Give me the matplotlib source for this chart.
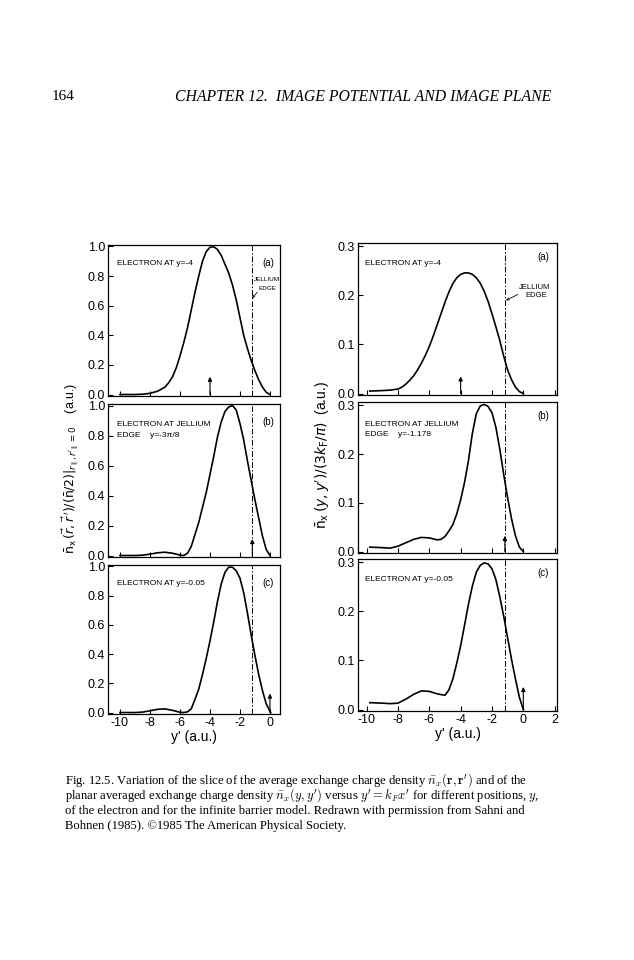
import matplotlib
matplotlib.use('Agg')
import matplotlib.pyplot as plt

# ---- data ----
jellium_edge = -1.178

left_a_x = [-10.0, -9.5, -9.0, -8.5, -8.0, -7.5, -7.0, -6.75, -6.5, -6.25, -6.0, -5.75, -5.5,
            -5.25, -5.0, -4.75, -4.5, -4.25, -4.0, -3.75, -3.5, -3.25, -3.0, -2.75, -2.5,
            -2.25, -2.0, -1.75, -1.5, -1.25, -1.0, -0.75, -0.5, -0.25, 0.0]
left_a_y = [0.0, 0.0, 0.0, 0.002, 0.008, 0.022, 0.05, 0.08, 0.12, 0.18, 0.26, 0.35, 0.45,
            0.57, 0.69, 0.80, 0.90, 0.965, 0.995, 0.998, 0.98, 0.94, 0.88, 0.82, 0.74,
            0.64, 0.52, 0.40, 0.31, 0.23, 0.16, 0.10, 0.05, 0.015, 0.0]

left_b_x = [-10.0, -9.5, -9.0, -8.5, -8.0, -7.5, -7.0, -6.5, -6.0, -5.75, -5.5, -5.25, -5.0,
            -4.75, -4.5, -4.25, -4.0, -3.75, -3.5, -3.25, -3.0, -2.75, -2.5, -2.25, -2.0,
            -1.75, -1.5, -1.25, -1.0, -0.75, -0.5, -0.25, 0.0]
left_b_y = [0.0, 0.0, 0.0, 0.002, 0.009, 0.018, 0.022, 0.015, 0.003, 0.0, 0.015, 0.06, 0.14,
            0.22, 0.32, 0.42, 0.54, 0.66, 0.79, 0.89, 0.96, 0.99, 1.0, 0.97, 0.88,
            0.77, 0.63, 0.50, 0.37, 0.25, 0.13, 0.04, 0.0]

left_c_x = [-10.0, -9.5, -9.0, -8.5, -8.0, -7.5, -7.0, -6.5, -6.0, -5.75, -5.5, -5.25, -5.0,
            -4.75, -4.5, -4.25, -4.0, -3.75, -3.5, -3.25, -3.0, -2.75, -2.5, -2.25, -2.0,
            -1.75, -1.5, -1.25, -1.0, -0.75, -0.5, -0.25, 0.05]
left_c_y = [0.0, 0.0, 0.0, 0.003, 0.012, 0.022, 0.025, 0.015, 0.002, 0.0, 0.005, 0.025, 0.09,
            0.16, 0.26, 0.37, 0.49, 0.62, 0.76, 0.88, 0.96, 0.995, 0.995, 0.97, 0.92,
            0.82, 0.68, 0.53, 0.39, 0.26, 0.15, 0.06, 0.0]

right_a_x = [-9.8, -9.0, -8.5, -8.0, -7.75, -7.5, -7.25, -7.0, -6.75, -6.5, -6.25, -6.0,
             -5.75, -5.5, -5.25, -5.0, -4.75, -4.5, -4.25, -4.0, -3.75, -3.5, -3.25, -3.0,
             -2.75, -2.5, -2.25, -2.0, -1.75, -1.5, -1.25, -1.0, -0.75, -0.5, -0.25, 0.0]
right_a_y = [0.005, 0.006, 0.007, 0.009, 0.013, 0.019, 0.027, 0.036, 0.048, 0.062, 0.078, 0.096,
             0.117, 0.14, 0.163, 0.186, 0.207, 0.224, 0.236, 0.243, 0.246, 0.246, 0.243, 0.236,
             0.225, 0.209, 0.188, 0.163, 0.136, 0.108, 0.076, 0.048, 0.028, 0.013, 0.004, 0.0]

right_b_x = [-9.8, -9.0, -8.5, -8.0, -7.5, -7.0, -6.5, -6.0, -5.5, -5.25, -5.0, -4.75, -4.5,
             -4.25, -4.0, -3.75, -3.5, -3.25, -3.0, -2.75, -2.5, -2.25, -2.0, -1.75, -1.5,
             -1.25, -1.0, -0.75, -0.5, -0.25, 0.0]
right_b_y = [0.009, 0.008, 0.007, 0.011, 0.018, 0.025, 0.029, 0.028, 0.024, 0.025, 0.031, 0.042, 0.055,
             0.077, 0.106, 0.142, 0.187, 0.243, 0.283, 0.299, 0.302, 0.298, 0.285, 0.255, 0.21,
             0.158, 0.11, 0.067, 0.032, 0.009, 0.0]

right_c_x = [-9.8, -9.0, -8.5, -8.0, -7.5, -7.0, -6.5, -6.0, -5.5, -5.0, -4.75, -4.5, -4.25,
             -4.0, -3.75, -3.5, -3.25, -3.0, -2.75, -2.5, -2.25, -2.0, -1.75, -1.5, -1.25,
             -1.0, -0.75, -0.5, -0.25, 0.0]
right_c_y = [0.014, 0.013, 0.012, 0.013, 0.021, 0.031, 0.038, 0.037, 0.032, 0.029, 0.04, 0.062, 0.094,
             0.13, 0.172, 0.215, 0.252, 0.28, 0.294, 0.299, 0.297, 0.287, 0.265, 0.23, 0.19,
             0.146, 0.102, 0.062, 0.025, 0.0]

# electron positions (arrows) and arrow heights
electron_pos = [-4.0, jellium_edge, 0.0]
left_arrow_h = [0.12, 0.11, 0.13]
right_arrow_h = [0.035, 0.032, 0.046]

left_texts = ['ELECTRON AT y=-4', 'ELECTRON AT JELLIUM\nEDGE    y=-3\u03c0/8', 'ELECTRON AT y=-0.05']
right_texts = ['ELECTRON AT y=-4', 'ELECTRON AT JELLIUM\nEDGE    y=-1.178', 'ELECTRON AT y=-0.05']
panel_tags = ['(a)', '(b)', '(c)']

left_yticks = [0.0, 0.2, 0.4, 0.6, 0.8, 1.0]
right_yticks = [0.0, 0.1, 0.2, 0.3]
left_xticks = [-10, -8, -6, -4, -2, 0]
right_xticks = [-10, -8, -6, -4, -2, 0, 2]

left_curves = [(left_a_x, left_a_y), (left_b_x, left_b_y), (left_c_x, left_c_y)]
right_curves = [(right_a_x, right_a_y), (right_b_x, right_b_y), (right_c_x, right_c_y)]

W, H = 634, 960
plt.rcParams['font.family'] = ['Liberation Sans', 'DejaVu Sans']
fig = plt.figure(figsize=(W / 100, H / 100), dpi=100)


def rect(x0, x1, top, bottom):
    return [x0 / W, 1 - bottom / H, (x1 - x0) / W, (bottom - top) / H]


left_rects = [rect(108, 280, 245, 396), rect(108, 280, 404, 557), rect(108, 280, 565, 714)]
right_rects = [rect(358, 557, 243, 395), rect(358, 557, 402, 553), rect(358, 557, 559, 711)]


def style_axes(ax, xlim, ylim, xticks, yticks, show_x):
    ax.set_xlim(*xlim)
    ax.set_ylim(*ylim)
    ax.set_xticks(xticks)
    ax.set_yticks(yticks)
    ax.set_yticklabels(['{:.1f}'.format(v) for v in yticks])
    if show_x:
        ax.set_xticklabels([str(v) for v in xticks])
    else:
        ax.set_xticklabels([])
    ax.tick_params(direction='in', length=3.5, width=0.8, labelsize=9, pad=2,
                   top=False, right=False)
    for sp in ax.spines.values():
        sp.set_linewidth(0.9)


def draw_panel(ax, xs, ys, arrow_x, arrow_h, text, tag, scale, right):
    ax.plot(xs, ys, color='black', lw=1.2)
    ax.axvline(jellium_edge, color='black', lw=0.7, linestyle=(0, (6, 2, 1.5, 2)))
    ax.annotate('', xy=(arrow_x, arrow_h), xytext=(arrow_x, 0.0),
                arrowprops=dict(arrowstyle='-|>', lw=0.8, color='black',
                                mutation_scale=6, shrinkA=0, shrinkB=0))
    tx = -10.1 if right else -10.2
    if '\n' in text:
        ax.text(tx, 0.835 * scale, text, fontsize=6, va='center', ha='left', linespacing=1.7)
    else:
        ax.text(tx, 0.885 * scale, text, fontsize=6, va='center', ha='left')
    ax.text(0.93, 0.91 if right else 0.88, tag, transform=ax.transAxes,
            fontsize=7, ha='center', va='center')


for i, ax_rect in enumerate(left_rects):
    ax = fig.add_axes(ax_rect)
    style_axes(ax, (-10.8, 0.67), (-0.01, 1.01), left_xticks, left_yticks, i == 2)
    xs, ys = left_curves[i]
    draw_panel(ax, xs, ys, electron_pos[i], left_arrow_h[i],
               left_texts[i], panel_tags[i], 1.0, False)
    if i == 0:
        ax.text(-1.08, 0.775, 'JELLIUM', fontsize=4.6, ha='left', va='center')
        ax.text(-0.75, 0.715, 'EDGE', fontsize=4.6, ha='left', va='center')
        ax.annotate('', xy=(-1.2, 0.65), xytext=(-0.85, 0.69),
                    arrowprops=dict(arrowstyle='->', lw=0.6, color='black',
                                    mutation_scale=4, shrinkA=0, shrinkB=0))
    if i == 2:
        ax.set_xlabel("y' (a.u.)", fontsize=10, labelpad=1)

for i, ax_rect in enumerate(right_rects):
    ax = fig.add_axes(ax_rect)
    style_axes(ax, (-10.55, 2.15), (-0.003, 0.307), right_xticks, right_yticks, i == 2)
    xs, ys = right_curves[i]
    draw_panel(ax, xs, ys, electron_pos[i], right_arrow_h[i],
               right_texts[i], panel_tags[i], 0.3, True)
    if i == 0:
        ax.text(-0.25, 0.217, 'JELLIUM', fontsize=5.5, ha='left', va='center')
        ax.text(0.1, 0.200, 'EDGE', fontsize=5.5, ha='left', va='center')
        ax.annotate('', xy=(-1.1, 0.19), xytext=(-0.35, 0.202),
                    arrowprops=dict(arrowstyle='->', lw=0.6, color='black',
                                    mutation_scale=4, shrinkA=0, shrinkB=0))
    if i == 2:
        ax.set_xlabel("y' (a.u.)", fontsize=10, labelpad=1)

# y-axis labels
fig.text(71 / W, 1 - 468 / H,
         r"$\bar{\mathrm{n}}_{\mathrm{x}}\,(\vec{r},\vec{r}\,')/(\bar{\mathrm{n}}/2)|_{r_{\parallel},r'_{\parallel}=0}$"
         "    (a.u.)",
         rotation=90, ha='center', va='center', fontsize=9, math_fontfamily='dejavusans')
fig.text(323 / W, 1 - 455 / H,
         r"$\bar{\mathrm{n}}_{\mathrm{x}}\,(y,y')/(3k_{\mathrm{F}}/\pi)$  (a.u.)",
         rotation=90, ha='center', va='center', fontsize=10, math_fontfamily='dejavusans')

# page header
fig.text(52 / W, 1 - 97 / H, '164', fontsize=11, family='Liberation Serif', va='center')
fig.text(175 / W, 1 - 97 / H, 'CHAPTER 12.  IMAGE POTENTIAL AND IMAGE PLANE',
         fontsize=11.3, family='Liberation Serif', style='italic', va='center')

# caption
caption_lines = [
    r"Fig. 12.5. Variation of the slice of the average exchange charge density $\bar{n}_x(\mathbf{r},\mathbf{r}')$ and of the",
    r"planar averaged exchange charge density $\bar{n}_x(y,y')$ versus $y' = k_F x'$ for different positions, $y$,",
    "of the electron and for the infinite barrier model. Redrawn with permission from Sahni and",
    "Bohnen (1985). \u00a91985 The American Physical Society.",
]
for k, line in enumerate(caption_lines):
    fig.text(65 / W, 1 - (780 + 15.4 * k) / H, line, fontsize=9.1,
             family='Liberation Serif', va='center', math_fontfamily='cm')

fig.savefig('out.png', dpi=100, facecolor='white')
